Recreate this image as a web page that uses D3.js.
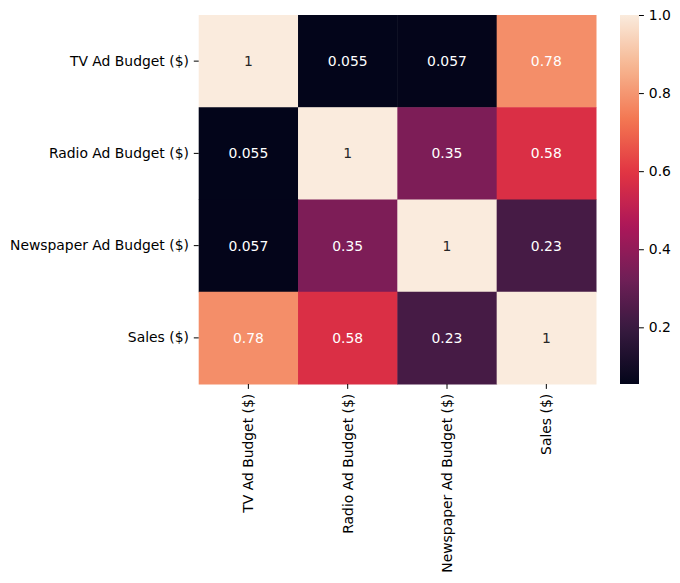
<!DOCTYPE html>
<html>
<head>
<meta charset="utf-8">
<script src="https://cdn.jsdelivr.net/npm/d3@7"></script>
<style>
  body { margin: 0; background: #fff; }
  svg text { font-family: "DejaVu Sans", sans-serif; }
</style>
</head>
<body>
<svg id="chart"></svg>
<script>
// correlation matrix (Advertising data)
const labels = ['TV Ad Budget ($)', 'Radio Ad Budget ($)', 'Newspaper Ad Budget ($)', 'Sales ($)']
const corr = [
  [1, 0.0548, 0.0566, 0.7822],
  [0.0548, 1, 0.3541, 0.5762],
  [0.0566, 0.3541, 1, 0.2283],
  [0.7822, 0.5762, 0.2283, 1]
]
const cbarTicks = [0.2, 0.4, 0.6, 0.8, 1.0]

// seaborn "rocket" colormap, sampled stops
const rocketStops = ['#03051a', '#35193e', '#701f57', '#ad1759', '#e13342', '#f37651', '#f6b48f', '#faebdd']

const w = 680
const h = 583
const padL = 198.7, padR = 596, padT = 15, padB = 384

const svg = d3.select('#chart').attr('width', w).attr('height', h)

const vmin = d3.min(corr.flat())
const vmax = d3.max(corr.flat())

const rocket = d3.scaleLinear()
                 .domain(d3.range(rocketStops.length).map(i => i / (rocketStops.length - 1)))
                 .range(rocketStops)
                 .interpolate(d3.interpolateRgb)
const norm = d3.scaleLinear().domain([vmin, vmax]).range([0, 1])
const color = v => rocket(norm(v))

const xScale = d3.scaleBand().domain(labels).range([padL, padR])
const yScale = d3.scaleBand().domain(labels).range([padT, padB])

const cells = []
corr.forEach((row, i) => row.forEach((v, j) => cells.push({ r: labels[i], c: labels[j], v })))

const fmt = v => v === 1 ? '1' : (+d3.format('.2r')(v)).toString()

function luminance(c) {
  const rgb = d3.rgb(c)
  const f = x => { x /= 255; return x <= 0.03928 ? x / 12.92 : Math.pow((x + 0.055) / 1.055, 2.4) }
  return 0.2126 * f(rgb.r) + 0.7152 * f(rgb.g) + 0.0722 * f(rgb.b)
}

svg.append('g')
   .selectAll('rect')
   .data(cells)
   .enter()
   .append('rect')
     .attr('x', d => xScale(d.c))
     .attr('y', d => yScale(d.r))
     .attr('width', xScale.bandwidth() + 0.5)
     .attr('height', yScale.bandwidth() + 0.5)
     .attr('fill', d => color(d.v))

svg.append('g')
   .selectAll('text')
   .data(cells)
   .enter()
   .append('text')
     .attr('x', d => xScale(d.c) + xScale.bandwidth() / 2)
     .attr('y', d => yScale(d.r) + yScale.bandwidth() / 2)
     .attr('text-anchor', 'middle')
     .attr('dominant-baseline', 'central')
     .attr('font-size', '13.9px')
     .attr('fill', d => luminance(color(d.v)) > 0.408 ? '#262626' : '#ffffff')
     .text(d => fmt(d.v))

// axes
const yAxis = d3.axisLeft(yScale).tickSize(4.9).tickPadding(4.9)
const yg = svg.append('g')
              .attr('transform', 'translate(' + padL + ', 0)')
              .call(yAxis)
yg.select('.domain').remove()
yg.selectAll('text').attr('font-size', '13.9px').attr('fill', '#000').attr('font-family', '"DejaVu Sans", sans-serif')
yg.selectAll('line').attr('stroke', '#000').attr('stroke-width', 1)

const xAxis = d3.axisBottom(xScale).tickSize(4.9).tickPadding(4.9)
const xg = svg.append('g')
              .attr('transform', 'translate(0, ' + padB + ')')
              .call(xAxis)
xg.select('.domain').remove()
xg.selectAll('line').attr('stroke', '#000').attr('stroke-width', 1)
xg.selectAll('text')
  .attr('font-size', '13.9px')
  .attr('fill', '#000')
  .attr('font-family', '"DejaVu Sans", sans-serif')
  .attr('text-anchor', 'end')
  .attr('dy', '0.35em')
  .attr('transform', 'translate(0, 9.8) rotate(-90)')
  .attr('x', 0)
  .attr('y', 0)

// colorbar
const cbLeft = 620, cbRight = 639
const cbScale = d3.scaleLinear().domain([vmin, vmax]).range([padB, padT])
const grad = svg.append('defs').append('linearGradient')
                .attr('id', 'cbgrad')
                .attr('x1', 0).attr('y1', 1).attr('x2', 0).attr('y2', 0)
grad.selectAll('stop')
    .data(d3.range(0, 1.0001, 0.02))
    .enter()
    .append('stop')
      .attr('offset', d => d)
      .attr('stop-color', d => rocket(d))
svg.append('rect')
   .attr('x', cbLeft)
   .attr('y', padT)
   .attr('width', cbRight - cbLeft)
   .attr('height', padB - padT)
   .attr('fill', 'url(#cbgrad)')

const cbAxis = d3.axisRight(cbScale).tickValues(cbarTicks).tickFormat(d3.format('.1f')).tickSize(4.9).tickPadding(4.9)
const cg = svg.append('g')
              .attr('transform', 'translate(' + cbRight + ', 0)')
              .call(cbAxis)
cg.select('.domain').remove()
cg.selectAll('line').attr('stroke', '#000').attr('stroke-width', 1)
cg.selectAll('text').attr('font-size', '13.9px').attr('fill', '#000').attr('font-family', '"DejaVu Sans", sans-serif')
</script>
</body>
</html>
